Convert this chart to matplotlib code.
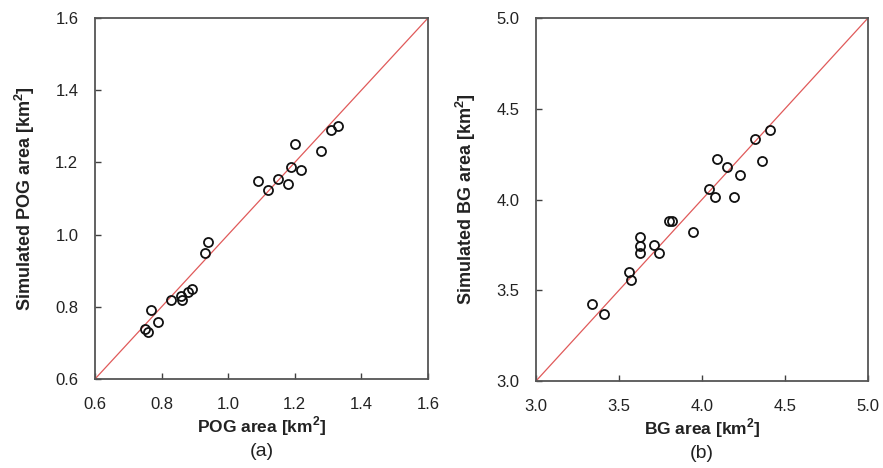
import matplotlib
matplotlib.use("Agg")
import matplotlib.pyplot as plt

plt.rcParams['font.family'] = ['Liberation Sans', 'DejaVu Sans']
plt.rcParams['mathtext.fontset'] = 'custom'
plt.rcParams['mathtext.rm'] = 'Liberation Sans'
plt.rcParams['mathtext.bf'] = 'Liberation Sans:bold'

# Panel (a): POG area
pog_obs = [0.750, 0.760, 0.769, 0.790, 0.829, 0.859, 0.860, 0.879, 0.890, 0.930, 0.939,
           1.090, 1.120, 1.151, 1.180, 1.190, 1.200, 1.219, 1.279, 1.309, 1.331]
pog_sim = [0.738, 0.729, 0.790, 0.759, 0.820, 0.830, 0.819, 0.841, 0.850, 0.950, 0.980,
           1.148, 1.123, 1.154, 1.140, 1.188, 1.250, 1.180, 1.231, 1.291, 1.300]
pog_ticks = [0.6, 0.8, 1.0, 1.2, 1.4, 1.6]

# Panel (b): BG area
bg_obs = [3.339, 3.410, 3.558, 3.570, 3.628, 3.628, 3.628, 3.709, 3.741, 3.799, 3.819,
          3.946, 4.040, 4.080, 4.090, 4.151, 4.191, 4.227, 4.321, 4.361, 4.408]
bg_sim = [3.423, 3.371, 3.601, 3.558, 3.793, 3.746, 3.705, 3.751, 3.703, 3.883, 3.882,
          3.823, 4.056, 4.014, 4.223, 4.179, 4.014, 4.133, 4.331, 4.214, 4.385]
bg_ticks = [3.0, 3.5, 4.0, 4.5, 5.0]

W, H = 883, 468
fig = plt.figure(figsize=(W / 100, H / 100), dpi=100)

def make_ax(l, t, r, b):
    return fig.add_axes([l / W, 1 - b / H, (r - l) / W, (b - t) / H])

ax1 = make_ax(95, 18, 428, 379)
ax2 = make_ax(536, 18, 868, 381)

panels = [
    (ax1, pog_obs, pog_sim, pog_ticks, r'POG area [km$^\mathbf{2}$]',
     r'Simulated POG area [km$^\mathbf{2}$]', '(a)'),
    (ax2, bg_obs, bg_sim, bg_ticks, r'BG area [km$^\mathbf{2}$]',
     r'Simulated BG area [km$^\mathbf{2}$]', '(b)'),
]

for ax, xo, ys, ticks, xl, yl, tag in panels:
    lo, hi = ticks[0], ticks[-1]
    ax.plot([lo, hi], [lo, hi], color='#e05a5a', lw=0.9, zorder=2)
    ax.plot(xo, ys, linestyle='none', marker='o', markersize=6.5,
            markerfacecolor='none', markeredgecolor='#111111', markeredgewidth=1.3, zorder=3)
    ax.set_xlim(lo, hi)
    ax.set_ylim(lo, hi)
    ax.set_xticks(ticks)
    ax.set_yticks(ticks)
    ax.set_xticklabels([f'{t:.1f}' for t in ticks])
    ax.set_yticklabels([f'{t:.1f}' for t in ticks])
    ax.tick_params(direction='in', length=4, width=1.0, color='#404040',
                   labelsize=12, labelcolor='#222222')
    ax.tick_params(axis='x', pad=13)
    ax.tick_params(axis='y', pad=12)
    for s in ax.spines.values():
        s.set_color('#555555')
        s.set_linewidth(1.3)
    ax.set_xlabel(xl, fontsize=12.5, fontweight='bold', color='#222222', labelpad=2)
    ax.set_ylabel(yl, fontsize=13, fontweight='bold', color='#222222', labelpad=13)
    ax.text(0.5, -0.2, tag, transform=ax.transAxes, ha='center', va='center',
            fontsize=14, color='#222222')

fig.savefig('out.png', dpi=100)
